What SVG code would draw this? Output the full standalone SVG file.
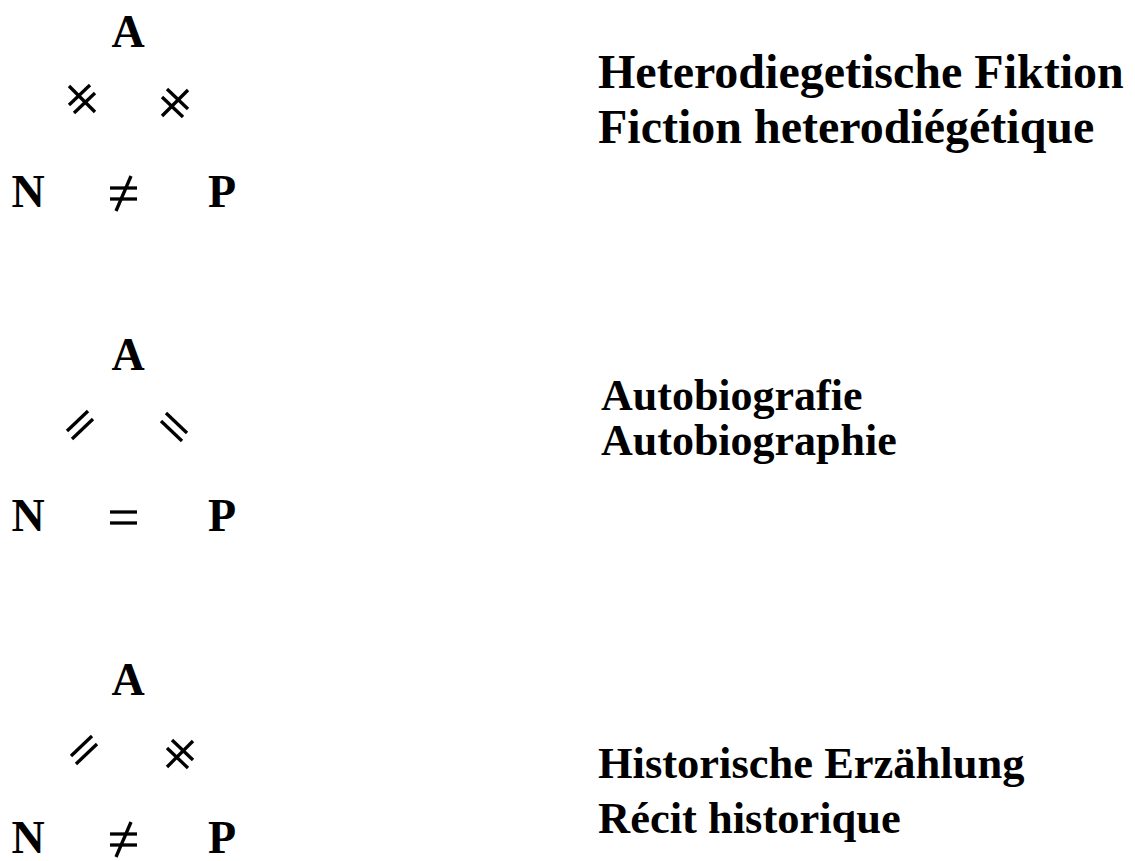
<svg xmlns="http://www.w3.org/2000/svg" width="1135" height="861" viewBox="0 0 1135 861">
  <style>
    .lbl { font-family: "Liberation Serif", "Times New Roman", serif; font-weight: bold; fill: #000; }
    .node { font-size: 46px; text-anchor: middle; }
    .mark { stroke: #000; stroke-width: 3.3; stroke-linecap: butt; fill: none; }
  </style>
  <defs>
    <!-- equality mark drawn along an edge: two parallel strokes, rising to the right -->
    <g id="eqRise">
      <line class="mark" x1="-13" y1="6" x2="8" y2="-14"/>
      <line class="mark" x1="-8" y1="14" x2="13" y2="-6"/>
    </g>
    <!-- equality mark along an edge falling to the right -->
    <g id="eqFall">
      <line class="mark" x1="-8" y1="-14" x2="13" y2="6"/>
      <line class="mark" x1="-13" y1="-6" x2="8" y2="14"/>
    </g>
    <!-- inequality marks: the equality pair crossed by a third stroke -->
    <g id="neRise">
      <use href="#eqRise"/>
      <line class="mark" x1="-13" y1="-13" x2="13" y2="13"/>
    </g>
    <g id="neFall">
      <use href="#eqFall"/>
      <line class="mark" x1="-13" y1="13" x2="13" y2="-13"/>
    </g>
    <!-- horizontal equality between N and P, origin on the text baseline -->
    <g id="eqRow">
      <line class="mark" x1="110" y1="-19" x2="137" y2="-19"/>
      <line class="mark" x1="110" y1="-8" x2="137" y2="-8"/>
    </g>
    <g id="neRow">
      <use href="#eqRow"/>
      <line class="mark" x1="116" y1="4" x2="131" y2="-31"/>
    </g>
  </defs>
  <rect width="1135" height="861" fill="#fff"/>

  <!-- Heterodiegetic fiction: A ≠ N, A ≠ P, N ≠ P -->
  <g id="fiction">
    <g id="fiction-nodes">
      <text id="fiction-A" class="lbl node" x="128" y="47">A</text>
      <text id="fiction-N" class="lbl node" x="28" y="207">N</text>
      <text id="fiction-P" class="lbl node" x="222" y="207">P</text>
    </g>
    <g id="fiction-relations">
      <use href="#neRise" x="82" y="99"/>
      <use href="#neFall" x="175" y="103"/>
      <use href="#neRow" y="207"/>
    </g>
    <g id="fiction-label">
      <text class="lbl" x="598" y="88" font-size="48">Heterodiegetische Fiktion</text>
      <text class="lbl" x="598" y="143" font-size="48">Fiction heterodiégétique</text>
    </g>
  </g>

  <!-- Autobiography: A = N, A = P, N = P -->
  <g id="autobiography">
    <g id="autobiography-nodes">
      <text id="autobiography-A" class="lbl node" x="128" y="370">A</text>
      <text id="autobiography-N" class="lbl node" x="28" y="531">N</text>
      <text id="autobiography-P" class="lbl node" x="222" y="531">P</text>
    </g>
    <g id="autobiography-relations">
      <use href="#eqRise" x="80" y="425"/>
      <use href="#eqFall" x="174" y="427"/>
      <use href="#eqRow" y="531"/>
    </g>
    <g id="autobiography-label">
      <text class="lbl" x="601" y="410" font-size="44">Autobiografie</text>
      <text class="lbl" x="601" y="455" font-size="44">Autobiographie</text>
    </g>
  </g>

  <!-- Historical narrative: A = N, A ≠ P, N ≠ P -->
  <g id="history">
    <g id="history-nodes">
      <text id="history-A" class="lbl node" x="128" y="695">A</text>
      <text id="history-N" class="lbl node" x="28" y="853">N</text>
      <text id="history-P" class="lbl node" x="222" y="853">P</text>
    </g>
    <g id="history-relations">
      <use href="#eqRise" x="84" y="750"/>
      <use href="#neFall" x="180" y="754"/>
      <use href="#neRow" y="853"/>
    </g>
    <g id="history-label">
      <text class="lbl" x="598" y="778" font-size="44.5">Historische Erzählung</text>
      <text class="lbl" x="598" y="833" font-size="44.5">Récit historique</text>
    </g>
  </g>
</svg>
